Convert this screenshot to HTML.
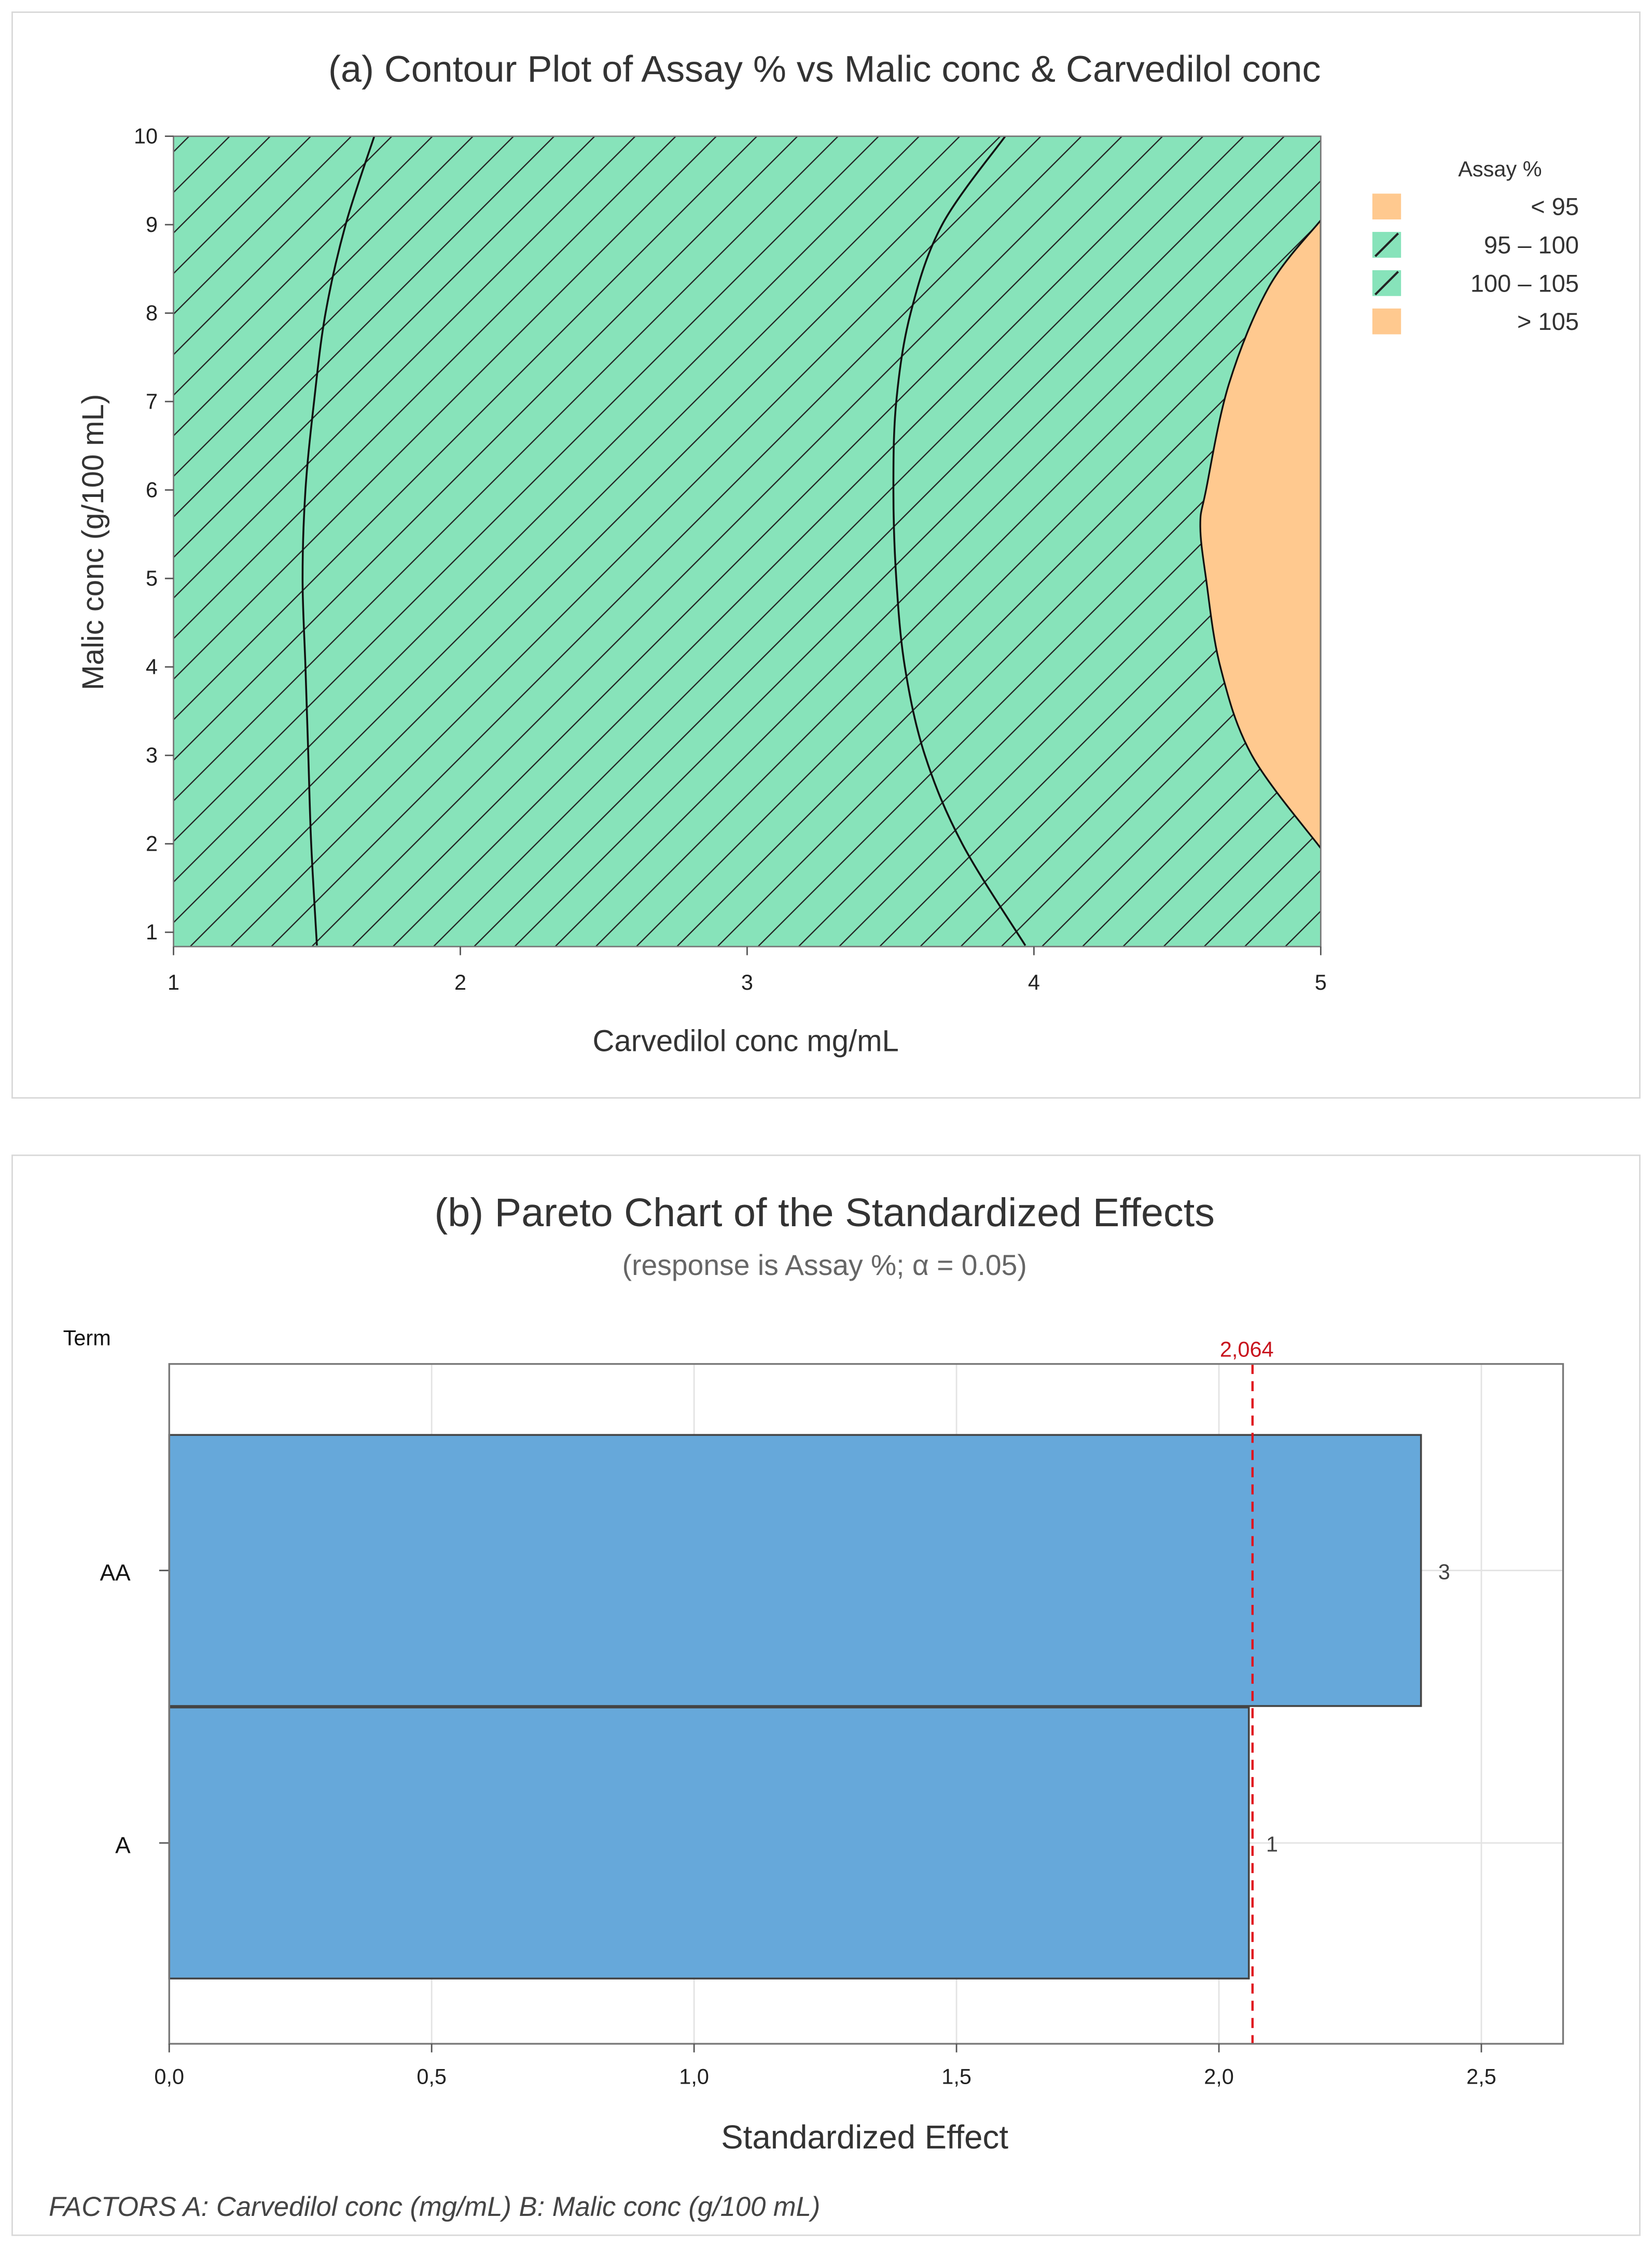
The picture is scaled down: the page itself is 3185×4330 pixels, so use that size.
<!DOCTYPE html>
<html><head><meta charset="utf-8"><style>
html,body{margin:0;padding:0;background:#fff}
svg{display:block}
text{font-family:"Liberation Sans","DejaVu Sans",sans-serif}
</style></head><body>
<svg id="fig" width="3185" height="4330" viewBox="0 0 1152 1566" preserveAspectRatio="none" xmlns="http://www.w3.org/2000/svg">
<defs>
<pattern id="hatch" patternUnits="userSpaceOnUse" width="20" height="20" patternTransform="rotate(45)">
<rect width="20" height="20" fill="#87e3ba"/>
<line x1="0" y1="0" x2="0" y2="20" stroke="#222" stroke-width="1.7"/>
</pattern>
<clipPath id="plotclip"><rect x="121" y="95" width="800" height="565"/></clipPath>
</defs>
<rect x="8.5" y="8.5" width="1135" height="757" fill="#fff" stroke="#d8d8d8"/>
<rect x="8.5" y="805.5" width="1135" height="753" fill="#fff" stroke="#d8d8d8"/>
<text x="575" y="57" font-size="26" text-anchor="middle" fill="#333">(a)  Contour Plot of Assay % vs Malic conc &amp; Carvedilol conc</text>
<g id="contour"></g>
<text x="520" y="733" font-size="21" text-anchor="middle" fill="#333">Carvedilol conc mg/mL</text>
<text transform="translate(72,378) rotate(-90)" font-size="21" text-anchor="middle" fill="#333">Malic conc (g/100 mL)</text>
<g id="legend">
<text x="1046" y="123" font-size="15" text-anchor="middle" fill="#333">Assay %</text>
</g>
<text x="575" y="855" font-size="28" text-anchor="middle" fill="#333">(b)  Pareto Chart of the Standardized Effects</text>
<text x="575" y="889" font-size="20" text-anchor="middle" fill="#666">(response is Assay %; α = 0.05)</text>
<text x="44" y="938" font-size="15" fill="#111">Term</text>
<g id="pareto"></g>
<text x="603" y="1498" font-size="23" text-anchor="middle" fill="#333">Standardized Effect</text>
<text x="34" y="1545" font-size="19" font-style="italic" fill="#444">FACTORS  A: Carvedilol conc (mg/mL)  B: Malic conc (g/100 mL)</text>
</svg>
<script>
// ---- contour data ----
const xTicks=[1,2,3,4,5];
const yTicks=[1,2,3,4,5,6,7,8,9,10];
const curve100X=[1.70,1.60,1.53,1.49,1.46,1.45,1.46,1.47,1.48,1.50];
const curve100Y=[10,9,8,7,6,5,4,3,2,0.85];
const curve105X=[3.90,3.68,3.57,3.52,3.51,3.52,3.55,3.62,3.75,3.97];
const curve105Y=[10,9,8,7,6,5,4,3,2,0.85];
const regionX=[5,4.82,4.68,4.60,4.58,4.60,4.65,4.76,5];
const regionY=[9.05,8.3,7.2,6.0,5.6,5.0,4.0,3.0,1.95];
const legendLabels=["<   95","95  –   100","100  –   105",">   105"];
const legendFills=["#ffc98f","hatch","hatch","#ffc98f"];
// ---- pareto data ----
const terms=["A","AA"];
const effects=[2.057,2.385];
const barLabels=["1","3"];
const refValue=2.064;
const effTicks=[0,0.5,1.0,1.5,2.0,2.5];
const effTickLabels=["0,0","0,5","1,0","1,5","2,0","2,5"];

const NS="http://www.w3.org/2000/svg";
function mk(tag,attrs,parent){const e=document.createElementNS(NS,tag);for(const k in attrs)e.setAttribute(k,attrs[k]);parent.appendChild(e);return e;}
const cx=v=>121+(v-1)*200;
const cy=v=>650-(v-1)*61.67;
function smooth(xs,ys){
 const P=xs.map((x,i)=>[cx(x),cy(ys[i])]);
 let d='M'+P[0][0]+','+P[0][1];
 for(let i=0;i<P.length-1;i++){
  const p0=P[Math.max(0,i-1)],p1=P[i],p2=P[i+1],p3=P[Math.min(P.length-1,i+2)];
  const c1=[p1[0]+(p2[0]-p0[0])/6,p1[1]+(p2[1]-p0[1])/6];
  const c2=[p2[0]-(p3[0]-p1[0])/6,p2[1]-(p3[1]-p1[1])/6];
  d+=' C'+c1[0]+','+c1[1]+' '+c2[0]+','+c2[1]+' '+p2[0]+','+p2[1];
 }
 return d;
}
const cg=document.getElementById('contour');
let bg=mk('rect',{x:121,y:95,width:800,height:565,fill:'url(#hatch)'},cg);


let reg=mk('path',{d:smooth(regionX,regionY)+' Z',fill:'#ffc98f',stroke:'#111','stroke-width':1.2,'clip-path':'url(#plotclip)'},cg);


function curve(xs,ys,name){
 const c=mk('path',{d:smooth(xs,ys),fill:'none',stroke:'#111','stroke-width':1.3,'clip-path':'url(#plotclip)'},cg);
 
 }
curve(curve100X,curve100Y,'contour-line-100');
curve(curve105X,curve105Y,'contour-line-105');
mk('rect',{x:121,y:95,width:800,height:565,fill:'none',stroke:'#777','stroke-width':1},cg);
xTicks.forEach(v=>{mk('line',{x1:cx(v),x2:cx(v),y1:660,y2:666,stroke:'#555'},cg);
 const t=mk('text',{x:cx(v),y:690,'font-size':15,'text-anchor':'middle',fill:'#222'},cg);t.textContent=v;
 
 });
yTicks.forEach(v=>{mk('line',{x1:115,x2:121,y1:cy(v),y2:cy(v),stroke:'#555'},cg);
 const t=mk('text',{x:110,y:cy(v)+5,'font-size':15,'text-anchor':'end',fill:'#222'},cg);t.textContent=v;
 
 });
const lg=document.getElementById('legend');
legendLabels.forEach((l,i)=>{const y=135+i*26.7;
 const f=legendFills[i]==='hatch'?'#87e3ba':legendFills[i];
 const r=mk('rect',{x:957,y:y,width:20,height:18,fill:f},lg);
 
 
 if(legendFills[i]==='hatch')mk('line',{x1:959,y1:y+17,x2:975,y2:y+1,stroke:'#222','stroke-width':1.5},lg);
 const t=mk('text',{x:1101,y:y+15,'font-size':17,'text-anchor':'end',fill:'#333','xml:space':'preserve'},lg);t.textContent=l;
 
 });
// pareto
const px=v=>118+v*366;
const py=i=>1285-i*190;
const pg=document.getElementById('pareto');
mk('rect',{x:118,y:951,width:972,height:474,fill:'#fff'},pg);
effTicks.forEach(v=>{if(v>0)mk('line',{x1:px(v),x2:px(v),y1:951,y2:1425,stroke:'#e3e3e3'},pg);});
terms.forEach((t,i)=>{mk('line',{x1:118,x2:1090,y1:py(i),y2:py(i),stroke:'#e3e3e3'},pg);});
terms.forEach((t,i)=>{
 const b=mk('rect',{x:118,y:py(i)-94.5,width:px(effects[i])-118,height:189,fill:'#66a8da',stroke:'#444','stroke-width':1.3},pg);
 
 
 const lb=mk('text',{x:px(effects[i])+12,y:py(i)+6,'font-size':15,fill:'#444'},pg);lb.textContent=barLabels[i];
 
 
 mk('line',{x1:111,x2:118,y1:py(i),y2:py(i),stroke:'#555'},pg);
 const tl=mk('text',{x:91,y:py(i)+7,'font-size':16,'text-anchor':'end',fill:'#111'},pg);tl.textContent=t;
 
 
});
const rl=mk('line',{x1:px(refValue),x2:px(refValue),y1:951,y2:1425,stroke:'#e0141e','stroke-width':1.6,'stroke-dasharray':'7,5'},pg);


const rt=mk('text',{x:px(refValue)-4,y:946,'font-size':15,'text-anchor':'middle',fill:'#c8141e'},pg);rt.textContent=String(refValue).replace('.',',');


mk('rect',{x:118,y:951,width:972,height:474,fill:'none',stroke:'#777','stroke-width':1.2},pg);
effTicks.forEach((v,i)=>{mk('line',{x1:px(v),x2:px(v),y1:1425,y2:1431,stroke:'#555'},pg);
 const t=mk('text',{x:px(v),y:1453,'font-size':15,'text-anchor':'middle',fill:'#222'},pg);t.textContent=effTickLabels[i];
 
 });
</script>
</body></html>
